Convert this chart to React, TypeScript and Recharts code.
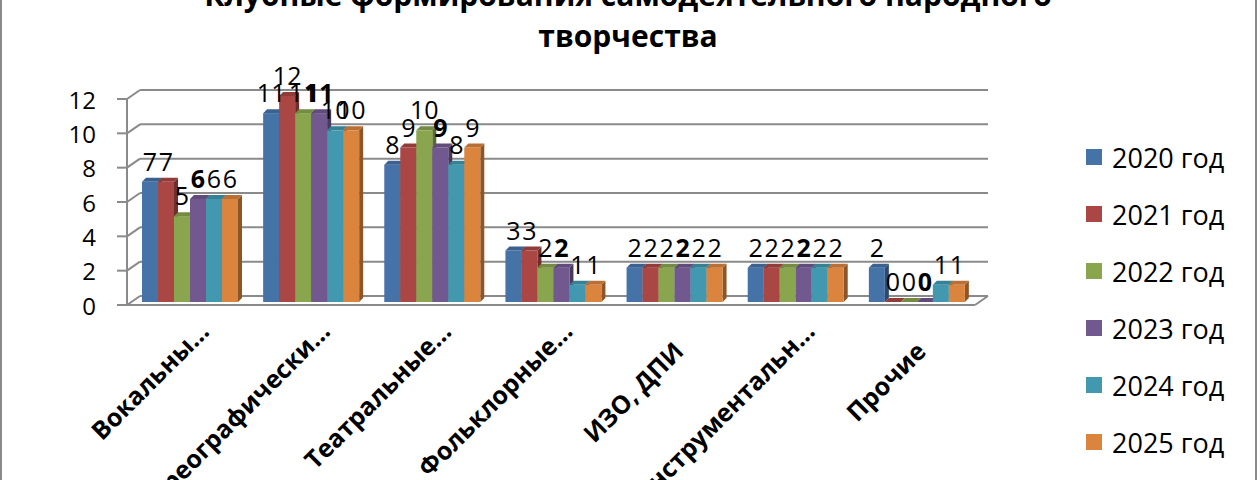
import { BarChart, Bar, XAxis, YAxis, CartesianGrid, LabelList } from 'recharts'

const categories = ['Вокальны…', 'Хореографически…', 'Театральные…', 'Фольклорные…', 'ИЗО, ДПИ', 'Инструментальн…', 'Прочие']
const years = ['2020 год', '2021 год', '2022 год', '2023 год', '2024 год', '2025 год']
const values2020 = [7, 11, 8, 3, 2, 2, 2]
const values2021 = [7, 12, 9, 3, 2, 2, 0]
const values2022 = [5, 11, 10, 2, 2, 2, 0]
const values2023 = [6, 11, 9, 2, 2, 2, 0]
const values2024 = [6, 10, 8, 1, 2, 2, 1]
const values2025 = [6, 10, 9, 1, 2, 2, 1]
const yTicks = [0, 2, 4, 6, 8, 10, 12]
const titleLines = ['Клубные формирования самодеятельного народного', 'творчества']

const seriesValues = [values2020, values2021, values2022, values2023, values2024, values2025]
const colors = ['#4572A7', '#AA4643', '#89A54E', '#71588F', '#4198AF', '#DB843D']

const data = categories.map((name, i) => {
    const row: Record<string, string | number> = { name }
    years.forEach((y, s) => { row[y] = seriesValues[s][i] })
    return row
})

// layout (back wall of the 3d box = plot area)
const W = 1260
const H = 480
const PLOT_L = 140
const PLOT_R = 988
const PLOT_T = 90
const PLOT_B = 296
const FLOOR_DX = -13
const FLOOR_DY = 9
const BAR_DX = -10
const BAR_DY = 6
const DEPTH = 4
const FONT = "'Open Sans', sans-serif"
const FRAME = '#8a8a8a'

const shade = (hex: string, k: number) => {
    const n = parseInt(hex.slice(1), 16)
    const ch = [n >> 16, (n >> 8) & 255, n & 255].map(c =>
        Math.round(k < 0 ? c * (1 + k) : c + (255 - c) * k))
    return `rgb(${ch.join(',')})`
}

const Bar3D = (props: any) => {
    const { x, y, width, height, fill } = props
    if (x == null || y == null) return null
    const fx = x + BAR_DX
    const fy = y + BAR_DY
    const w = width
    const h = Math.max(height, 0)
    return (
        <g>
            <polygon
                points={`${fx + w},${fy} ${fx + w + DEPTH},${fy - DEPTH} ${fx + w + DEPTH},${fy + h - DEPTH} ${fx + w},${fy + h}`}
                fill={shade(fill, -0.35)} />
            <rect x={fx} y={fy} width={w} height={h} fill={fill} />
            <polygon
                points={`${fx},${fy} ${fx + DEPTH},${fy - DEPTH} ${fx + w + DEPTH},${fy - DEPTH} ${fx + w},${fy}`}
                fill={shade(fill, -0.15)} />
        </g>
    )
}

const YTick = (props: any) => {
    const { y, payload } = props
    const fx = PLOT_L + FLOOR_DX
    const fy = y + FLOOR_DY
    return (
        <g>
            <line x1={fx - 10} y1={fy} x2={fx} y2={fy} stroke={FRAME} strokeWidth={2} />
            <line x1={fx} y1={fy} x2={PLOT_L} y2={y} stroke={FRAME} strokeWidth={2} />
            {payload.value === 0 && (
                <g>
                    <line x1={fx} y1={fy} x2={fx} y2={fy - (PLOT_B - PLOT_T)} stroke={FRAME} strokeWidth={2} />
                    <line x1={fx} y1={fy} x2={PLOT_R + FLOOR_DX} y2={fy} stroke={FRAME} strokeWidth={2} />
                    <line x1={PLOT_R + FLOOR_DX} y1={fy} x2={PLOT_R} y2={y} stroke={FRAME} strokeWidth={2} />
                </g>
            )}
            <text x={96} y={fy} textAnchor="end" dominantBaseline="central" fontSize={24} fill="#000">
                {payload.value}
            </text>
        </g>
    )
}

const XTick = (props: any) => {
    const { x, payload } = props
    const label = String(payload.value)
    const cut = label.endsWith('…')
    const px = x + (cut ? 10 : 0)
    const py = cut ? 333 : 353
    return (
        <text x={px} y={py} transform={`rotate(-45 ${px} ${py})`} textAnchor="end"
            fontSize={25} fontWeight="bold" fill="#000">
            {label}
        </text>
    )
}

const makeLabel = (bold: boolean) => (props: any) => {
    const { x, y, width, value } = props
    if (x == null || y == null) return null
    return (
        <text x={x + width / 2 + BAR_DX} y={y - 5} textAnchor="middle" fontSize={25}
            fontWeight={bold ? 'bold' : 'normal'} fill="#000">
            {value}
        </text>
    )
}

export default function App() {
    return (
        <div style={{ position: 'absolute', left: 0, top: 0, width: W, height: H, background: '#fff', fontFamily: FONT, overflow: 'hidden' }}>
            <BarChart width={W} height={H} data={data} barGap={0} barCategoryGap={12}
                margin={{ top: PLOT_T, right: W - PLOT_R, bottom: 34, left: 60 }}>
                <CartesianGrid vertical={false} stroke={FRAME} strokeWidth={2} />
                <XAxis dataKey="name" interval={0} axisLine={false} tickLine={false} height={H - PLOT_B - 34} tick={<XTick />} />
                <YAxis domain={[0, 12]} ticks={yTicks} width={PLOT_L - 60} axisLine={false} tickLine={false} tick={<YTick />} />
                {years.map((yr, s) => (
                    <Bar key={yr} dataKey={yr} fill={colors[s]} shape={<Bar3D />} isAnimationActive={false}>
                        <LabelList dataKey={yr} content={makeLabel(s === 3)} />
                    </Bar>
                ))}
            </BarChart>
            <svg width={W} height={H} style={{ position: 'absolute', left: 0, top: 0, pointerEvents: 'none' }}>
                <line x1={1} y1={0} x2={1} y2={H} stroke={FRAME} strokeWidth={2} />
                <line x1={1256} y1={0} x2={1256} y2={H} stroke={FRAME} strokeWidth={2} />
                {titleLines.map((t, i) => (
                    <text key={t} x={628} y={6 + i * 41} textAnchor="middle" fontSize={30} fontWeight="bold" fill="#000">
                        {t}
                    </text>
                ))}
                {years.map((yr, s) => (
                    <g key={yr}>
                        <rect x={1086} y={157 + s * 57 - 8} width={16} height={16} fill={colors[s]} />
                        <text x={1112} y={157 + s * 57} dominantBaseline="central" fontSize={27} fill="#000">{yr}</text>
                    </g>
                ))}
            </svg>
        </div>
    )
}
